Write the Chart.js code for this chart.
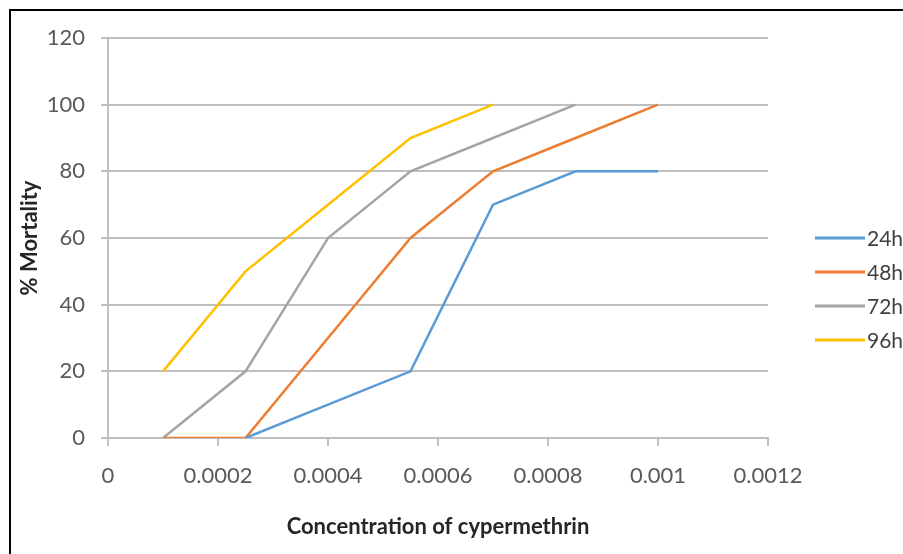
<!DOCTYPE html>
<html>
<head>
<meta charset="utf-8">
<script src="https://cdn.jsdelivr.net/npm/chart.js@4.4.1/dist/chart.umd.min.js"></script>
<style>
    html, body { margin: 0; padding: 0; background: #fff; overflow: hidden; }
    #frame { position: absolute; left: 9px; top: 9px; width: 1000px; height: 1000px;
             border-left: 2px solid #000; border-top: 2px solid #000; }
    #wrap { position: absolute; left: 0; top: 0; width: 903px; height: 554px; }
</style>
</head>
<body>
<div id="frame"></div>
<div id="wrap"><canvas id="myChart"></canvas></div>
<script>
// concentrations and % mortality per exposure time
var conc = [0.0001, 0.00025, 0.0004, 0.00055, 0.0007, 0.00085, 0.001];
var mort24 = [null, 0, 10, 20, 70, 80, 80];
var mort48 = [0, 0, 30, 60, 80, 90, 100];
var mort72 = [0, 20, 60, 80, 90, 100, null];
var mort96 = [20, 50, 70, 90, 100, null, null];
var seriesNames = ['24h', '48h', '72h', '96h'];
var seriesColors = ['#5b9bd5', '#ed7d31', '#a5a5a5', '#ffc000'];
var xTickLabels = ['0', '0.0002', '0.0004', '0.0006', '0.0008', '0.001', '0.0012'];
var yTickLabels = ['0', '20', '40', '60', '80', '100', '120'];

function points(vals) {
    var out = [];
    for (var i = 0; i < conc.length; i++) {
        if (vals[i] !== null) out.push({ x: conc[i], y: vals[i] });
    }
    return out;
}

var allSeries = [mort24, mort48, mort72, mort96];
var datasets = [];
for (var i = 0; i < allSeries.length; i++) {
    datasets.push({
        label: seriesNames[i],
        data: points(allSeries[i]),
        borderColor: seriesColors[i],
        backgroundColor: seriesColors[i],
        borderWidth: 2.5,
        pointRadius: 0,
        tension: 0
    });
}

// legend drawn at the right, partly cut off like the picture
var sideLegend = {
    id: 'sideLegend',
    afterDraw: function (chart) {
        var c = chart.ctx;
        c.save();
        c.font = '21px Lato';
        c.fillStyle = '#404040';
        c.textBaseline = 'middle';
        chart.data.datasets.forEach(function (ds, k) {
            var y = 238 + k * 34;
            c.strokeStyle = ds.borderColor;
            c.lineWidth = 3;
            c.beginPath();
            c.moveTo(815, y);
            c.lineTo(865, y);
            c.stroke();
            c.fillText(ds.label, 867, y + 1);
        });
        c.restore();
    }
};

var ctx1 = document.getElementById('myChart');
var myChart = new Chart(ctx1, {
    type: 'line',
    data: { datasets: datasets },
    plugins: [sideLegend],
    options: {
        responsive: true,
        maintainAspectRatio: false,
        animation: false,
        layout: { padding: { left: 17, right: 135, top: 38, bottom: 14 } },
        plugins: { legend: { display: false }, tooltip: { enabled: false } },
        scales: {
            x: {
                type: 'linear',
                min: 0, max: 0.0012,
                afterFit: function (s) { s.height = 102; },
                afterBuildTicks: function (s) {
                    s.ticks = xTickLabels.map(function (t, k) { return { value: k * 0.0002 }; });
                },
                ticks: {
                    padding: 17,
                    color: '#595959',
                    font: { family: 'Lato', size: 22 },
                    maxRotation: 0,
                    callback: function (v, k) { return xTickLabels[k]; }
                },
                grid: { drawOnChartArea: false, drawTicks: true, tickLength: 8, color: '#bfbfbf', lineWidth: 2 },
                border: { display: true, color: '#bfbfbf', width: 2 },
                title: {
                    display: true,
                    text: 'Concentration of cypermethrin',
                    color: '#262626',
                    font: { family: 'Lato', size: 22, weight: 'bold' },
                    padding: 0
                }
            },
            y: {
                min: 0, max: 120,
                afterFit: function (s) { s.width = 91; },
                ticks: {
                    stepSize: 20,
                    padding: 16,
                    color: '#595959',
                    font: { family: 'Lato', size: 22 },
                    callback: function (v, k) { return yTickLabels[k]; }
                },
                grid: { color: '#bfbfbf', lineWidth: 2, tickLength: 7 },
                border: { display: true, color: '#bfbfbf', width: 2 },
                title: {
                    display: true,
                    text: '% Mortality',
                    color: '#262626',
                    font: { family: 'Lato', size: 22, weight: 'bold' },
                    padding: 0
                }
            }
        }
    }
});
</script>
</body>
</html>
